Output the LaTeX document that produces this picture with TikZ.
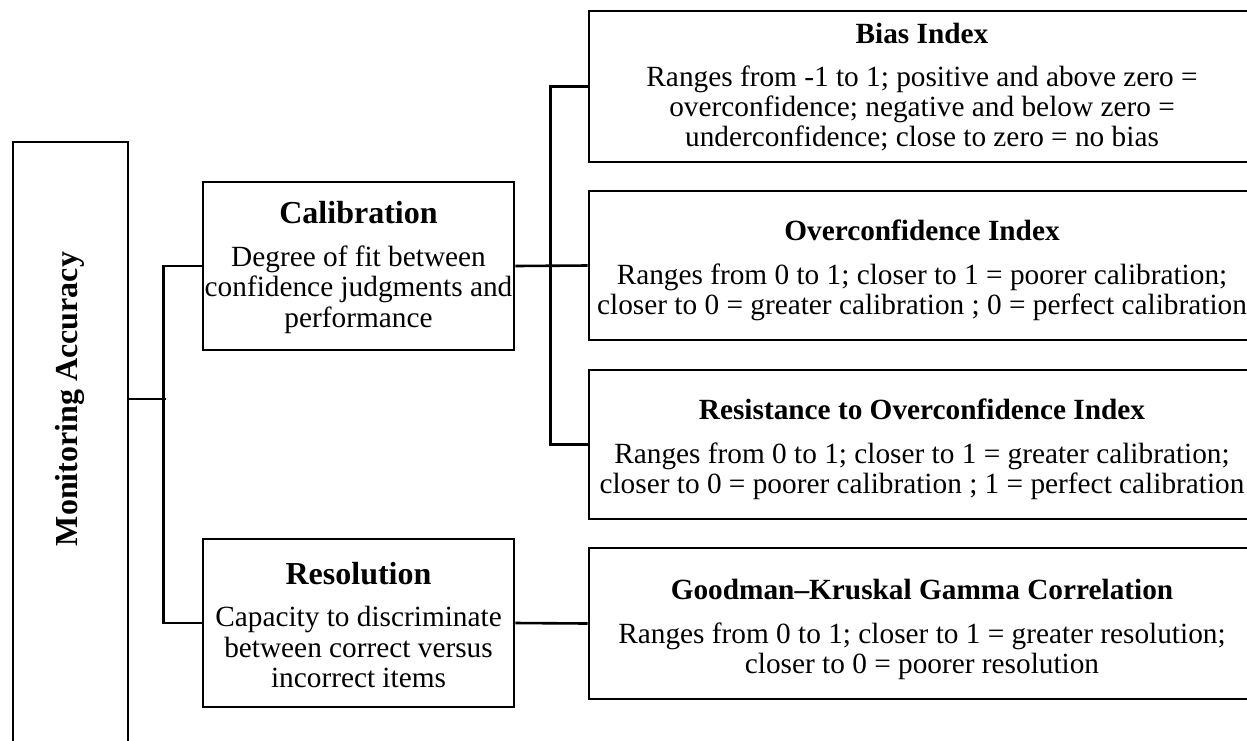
\documentclass[tikz,border=0pt]{standalone}
\usepackage{fontspec}
\setmainfont{Liberation Serif}
\begin{document}
\begin{tikzpicture}[x=1pt,y=-1pt,
  box/.style={draw, line width=2.6pt, inner sep=0pt},
  body/.style={align=center, font=\fontsize{29.3}{30}\selectfont, inner sep=0pt},
  lbody/.style={align=center, font=\fontsize{29.3}{30.5}\selectfont, inner sep=0pt},
  conn/.style={line width=2.6pt}]
\useasboundingbox (0,0) rectangle (1247,740);
\clip (0,0) rectangle (1247,740);
% root
\node[box, minimum width=115pt, minimum height=620pt] (mon) at (70.5,452) {};
\node[rotate=90, inner sep=0pt, font=\fontsize{32}{34}\selectfont\bfseries] (montext) at (70,399) {Monitoring Accuracy};
% second level
\node[box, minimum width=311pt, minimum height=168pt] (cal) at (358.5,266) {};
\node[lbody] (caltext) at (358.5,267.5) {{\fontsize{32}{34}\selectfont\bfseries Calibration}\\[12pt]Degree of fit between\\confidence judgments and\\performance};
\node[box, minimum width=311pt, minimum height=168pt] (res) at (358.5,623) {};
\node[lbody] (restext) at (358.5,625) {{\fontsize{32}{34}\selectfont\bfseries Resolution}\\[12pt]Capacity to discriminate\\between correct versus\\incorrect items};
% third level
\node[box, minimum width=666pt, minimum height=151pt] (bias) at (922,86.5) {};
\node[body] (biastext) at (922,87.5) {{\bfseries Bias Index}\\[13pt]Ranges from -1 to 1; positive and above zero =\\overconfidence; negative and below zero =\\underconfidence; close to zero = no bias};
\node[box, minimum width=666pt, minimum height=149pt] (over) at (922,265.5) {};
\node[body] (overtext) at (922,270.5) {{\bfseries Overconfidence Index}\\[14pt]Ranges from 0 to 1; closer to 1 = poorer calibration;\\closer to 0 = greater calibration ; 0 = perfect calibration};
\node[box, minimum width=666pt, minimum height=149pt] (resist) at (922,444.5) {};
\node[body] (resisttext) at (922,449.5) {{\bfseries Resistance to Overconfidence Index}\\[14pt]Ranges from 0 to 1; closer to 1 = greater calibration;\\closer to 0 = poorer calibration ; 1 = perfect calibration};
\node[box, minimum width=666pt, minimum height=151pt] (good) at (922,623.5) {};
\node[body] (goodtext) at (922,629) {{\bfseries Goodman–Kruskal Gamma Correlation}\\[14pt]Ranges from 0 to 1; closer to 1 = greater resolution;\\closer to 0 = poorer resolution};
% connectors
\draw[conn] (mon.east |- montext.center) -- ++(37,0);
\draw[conn] (cal.west) -- ++(-38,0) |- (res.west);
\draw[conn] (cal.east) -- (over.west);
\draw[conn] (bias.west) -- ++(-37,0) |- (resist.west);
\draw[conn] (res.east) -- (good.west);
\end{tikzpicture}
\end{document}
